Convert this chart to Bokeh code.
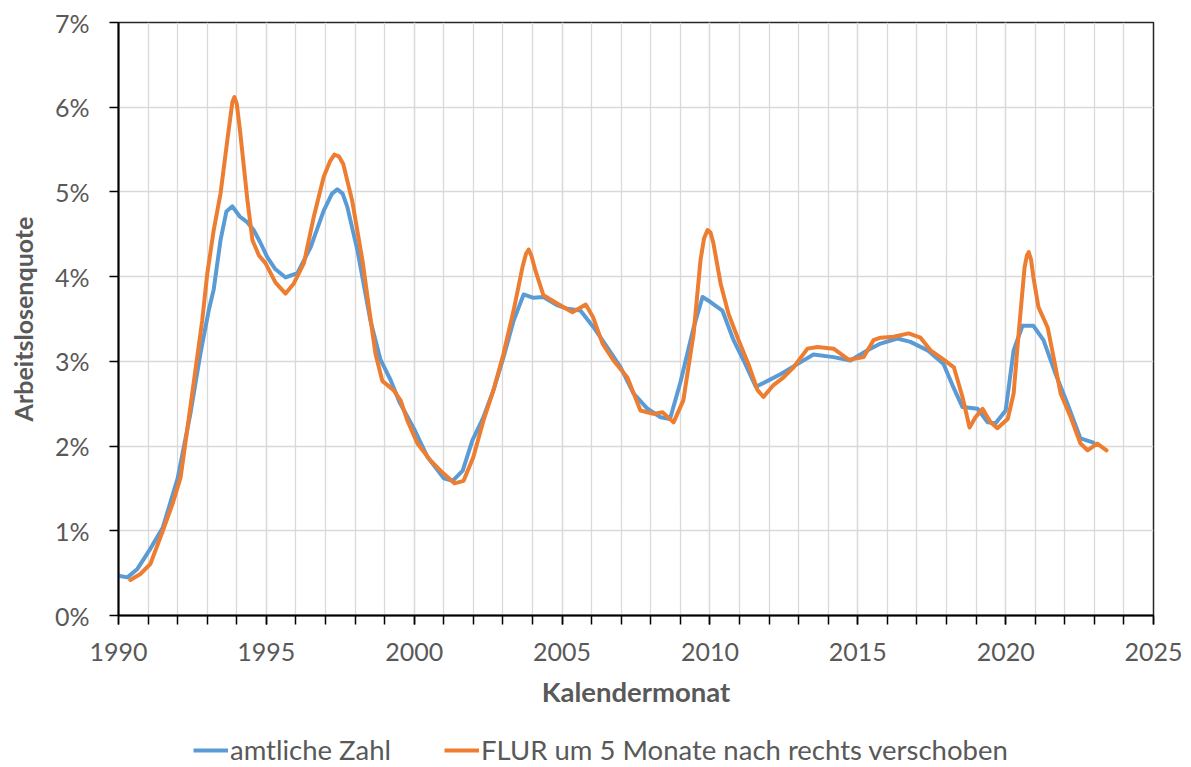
from bokeh.plotting import figure
from bokeh.models import Range1d, FixedTicker, Legend, LegendItem
from bokeh.layouts import column
from bokeh.embed import file_html
from bokeh.resources import INLINE

# --- data ---
amtlich_x = [1990.0, 1990.3, 1990.64, 1991.08, 1991.5, 1992.0, 1992.43, 1992.77, 1993.05,
             1993.22, 1993.45, 1993.65, 1993.85, 1994.1, 1994.36, 1994.57, 1994.8, 1995.03,
             1995.3, 1995.65, 1996.05, 1996.5, 1996.94, 1997.22, 1997.4, 1997.58, 1997.74, 1998.08, 1998.52,
             1998.86, 1999.2, 1999.5, 2000.0, 2000.45, 2001.0, 2001.3, 2001.64, 2001.97,
             2002.34, 2002.68, 2003.02, 2003.36, 2003.7, 2004.03, 2004.37, 2004.85, 2005.18,
             2005.62, 2006.07, 2006.54, 2006.98, 2007.42, 2007.89, 2008.33, 2008.65, 2009.0,
             2009.45, 2009.75, 2010.02, 2010.42, 2010.8, 2011.14, 2011.55, 2011.95, 2012.4,
             2012.97, 2013.5, 2014.18, 2014.75, 2015.33, 2015.77, 2016.34, 2016.78, 2017.36,
             2017.9, 2018.2, 2018.54, 2019.05, 2019.39, 2019.66, 2020.0, 2020.27, 2020.57,
             2020.94, 2021.28, 2021.69, 2022.09, 2022.53, 2022.97]
amtlich_y = [0.47, 0.45, 0.55, 0.79, 1.04, 1.62, 2.38, 3.09, 3.6,
             3.85, 4.43, 4.77, 4.83, 4.71, 4.64, 4.55, 4.4, 4.23,
             4.09, 3.99, 4.04, 4.35, 4.78, 4.98, 5.03, 4.98, 4.82, 4.31, 3.48,
             3.02, 2.78, 2.52, 2.2, 1.87, 1.62, 1.59, 1.71, 2.07,
             2.34, 2.66, 3.05, 3.48, 3.79, 3.75, 3.76, 3.66, 3.62,
             3.6, 3.4, 3.16, 2.93, 2.62, 2.44, 2.34, 2.32, 2.75,
             3.4, 3.76, 3.7, 3.6, 3.25, 3.01, 2.7, 2.77, 2.85,
             2.97, 3.08, 3.05, 3.01, 3.13, 3.21, 3.27, 3.23, 3.13,
             2.97, 2.72, 2.46, 2.44, 2.28, 2.27, 2.42, 3.13, 3.42,
             3.42, 3.25, 2.85, 2.5, 2.09, 2.04]

flur_x = [1990.4, 1990.74, 1991.08, 1991.5, 1991.83, 1992.1, 1992.43, 1992.83, 1993.0,
          1993.22, 1993.45, 1993.68, 1993.85, 1993.92, 1994.0, 1994.12, 1994.36, 1994.53, 1994.75,
          1994.97, 1995.31, 1995.65, 1995.93, 1996.27, 1996.6, 1996.94, 1997.15, 1997.3, 1997.45, 1997.6,
          1997.9, 1998.25, 1998.5, 1998.69, 1998.92, 1999.3, 1999.54, 1999.77, 2000.11,
          2000.55, 2000.89, 2001.36, 2001.67, 2002.0, 2002.34, 2002.68, 2003.02, 2003.36,
          2003.66, 2003.78, 2003.87, 2003.96, 2004.1, 2004.37, 2004.85, 2005.35, 2005.8, 2006.05, 2006.37,
          2006.74, 2007.21, 2007.65, 2008.09, 2008.4, 2008.77, 2009.1, 2009.45, 2009.68,
          2009.8, 2009.92, 2010.02, 2010.12, 2010.36, 2010.63, 2010.97, 2011.3, 2011.61, 2011.81, 2012.15,
          2012.49, 2012.83, 2013.3, 2013.64, 2014.18, 2014.69, 2015.2, 2015.53, 2015.77,
          2016.21, 2016.72, 2017.12, 2017.46, 2017.87, 2018.25, 2018.54, 2018.78, 2018.98,
          2019.22, 2019.49, 2019.72, 2020.07, 2020.27, 2020.44, 2020.64, 2020.72, 2020.78, 2020.86, 2020.94,
          2021.11, 2021.42, 2021.62, 2021.86, 2022.2, 2022.53, 2022.77, 2023.1, 2023.41]
flur_y = [0.42, 0.49, 0.61, 1.0, 1.32, 1.63, 2.46, 3.48, 4.03,
          4.55, 4.98, 5.61, 6.06, 6.12, 6.04, 5.69, 4.9, 4.43, 4.25,
          4.16, 3.93, 3.8, 3.92, 4.16, 4.7, 5.18, 5.36, 5.44, 5.42, 5.33,
          4.9, 4.19, 3.56, 3.09, 2.77, 2.66, 2.54, 2.3, 2.03,
          1.83, 1.71, 1.56, 1.59, 1.87, 2.3, 2.66, 3.09, 3.6,
          4.11, 4.27, 4.32, 4.25, 4.07, 3.78, 3.68, 3.58, 3.67, 3.52, 3.21,
          3.01, 2.81, 2.42, 2.38, 2.4, 2.28, 2.54, 3.33, 4.19,
          4.45, 4.55, 4.52, 4.39, 3.92, 3.56, 3.25, 2.97, 2.66, 2.58, 2.72,
          2.81, 2.93, 3.15, 3.17, 3.15, 3.02, 3.05, 3.25, 3.28,
          3.29, 3.33, 3.28, 3.13, 3.03, 2.93, 2.58, 2.22, 2.34,
          2.44, 2.28, 2.21, 2.32, 2.62, 3.33, 4.11, 4.25, 4.29, 4.2, 3.99,
          3.64, 3.4, 3.05, 2.62, 2.34, 2.03, 1.95, 2.03, 1.95]

x_major = [1990, 1995, 2000, 2005, 2010, 2015, 2020, 2025]
x_minor = list(range(1990, 2026))
y_ticks = [0, 1, 2, 3, 4, 5, 6, 7]
y_labels = {t: f"{t}%" for t in y_ticks}
series_names = ["amtliche Zahl", "FLUR um 5 Monate nach rechts verschoben"]
colors = ["#5B9BD5", "#ED7D31"]

FONT = "Lato"
TXT = "#595959"
W = 1185

p = figure(frame_width=1035, frame_height=593, output_backend="svg", toolbar_location=None,
           x_range=Range1d(1990, 2025), y_range=Range1d(0, 7),
           min_border_left=118, min_border_right=W - 118 - 1035, min_border_top=22,
           min_border_bottom=119)
p.background_fill_color = "white"
p.border_fill_color = "white"
p.outline_line_color = "#262626"
p.outline_line_width = 1.5

r1 = p.line(amtlich_x, amtlich_y, line_color=colors[0], line_width=4, line_join="round", line_cap="round")
r2 = p.line(flur_x, flur_y, line_color=colors[1], line_width=4, line_join="round", line_cap="round")

xt = FixedTicker(ticks=x_major, minor_ticks=x_minor)
yt = FixedTicker(ticks=y_ticks, minor_ticks=[])
p.xaxis.ticker = xt
p.yaxis.ticker = yt
p.xgrid.ticker = xt
p.ygrid.ticker = yt
for g in (p.xgrid, p.ygrid):
    g.grid_line_color = "#d9d9d9"
    g.grid_line_width = 1.3
p.xgrid.minor_grid_line_color = "#d9d9d9"
p.xgrid.minor_grid_line_width = 1.3

for ax in (p.xaxis, p.yaxis):
    ax.axis_line_color = "black"
    ax.axis_line_width = 2
    ax.major_tick_line_color = "black"
    ax.major_tick_line_width = 1.5
    ax.minor_tick_line_color = "black"
    ax.minor_tick_line_width = 1.5
    ax.major_tick_in = 0
    ax.major_tick_out = 9
    ax.minor_tick_in = 0
    ax.major_label_text_font = FONT
    ax.major_label_text_font_size = "25px"
    ax.major_label_text_color = TXT
    ax.axis_label_text_font = FONT
    ax.axis_label_text_font_style = "bold"
    ax.axis_label_text_color = TXT

p.xaxis.axis_label_text_font_size = "27.5px"
p.yaxis.axis_label_text_font_size = "25px"
p.xaxis.minor_tick_out = 9
p.yaxis.minor_tick_out = 0
p.yaxis.major_label_overrides = y_labels
p.xaxis.axis_label = "Kalendermonat"
p.yaxis.axis_label = "Arbeitslosenquote"
p.xaxis.major_label_standoff = 18
p.xaxis.axis_label_standoff = 11
p.yaxis.major_label_standoff = 20
p.yaxis.axis_label_standoff = 14

# legend strip below the chart (legend-only renderers hold no visible data)
nan = float("nan")
lf = figure(width=W, height=32, output_backend="svg", toolbar_location=None,
            min_border=0, x_range=Range1d(0, 1), y_range=Range1d(0, 1))
lf.axis.visible = False
lf.grid.visible = False
lf.outline_line_color = None
lr1 = lf.line([nan], [nan], line_color=colors[0], line_width=4)
lr2 = lf.line([nan], [nan], line_color=colors[1], line_width=4)
legend = Legend(items=[LegendItem(label=series_names[0], renderers=[lr1]),
                       LegendItem(label=series_names[1], renderers=[lr2])],
                orientation="horizontal", location=(75, 0))
legend.label_text_font = FONT
legend.label_text_font_size = "27.5px"
legend.label_text_color = TXT
legend.glyph_width = 35
legend.label_standoff = 2
legend.spacing = 53
legend.border_line_color = None
legend.background_fill_alpha = 0
legend.margin = 0
legend.padding = 0
lf.add_layout(legend, "center")

layout = column(p, lf, spacing=0)
open("out.html", "w").write(file_html(layout, INLINE))
